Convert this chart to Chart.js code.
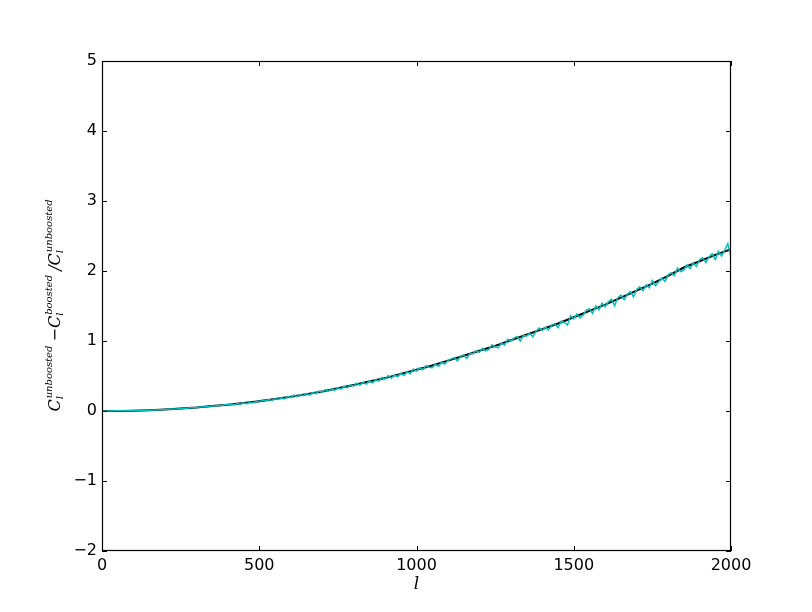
<!DOCTYPE html>
<html>
<head>
<meta charset="utf-8">
<script src="https://cdn.jsdelivr.net/npm/chart.js@4"></script>
<style>
  body { margin: 0; background: #fff; }
  canvas { display: block; }
</style>
</head>
<body>
<canvas id="boostChart" width="812" height="612"></canvas>
<script>
// smooth (black) curve, one value every 50 in l
const smoothL = [0, 50, 100, 150, 200, 250, 300, 350, 400, 450, 500, 550, 600, 650, 700, 750, 800, 850, 900, 950,
  1000, 1050, 1100, 1150, 1200, 1250, 1300, 1350, 1400, 1450, 1500, 1550, 1600, 1650, 1700, 1750, 1800, 1850, 1900, 1950, 2000];
const smoothRatio = [0, 0.001, 0.005, 0.012, 0.022, 0.035, 0.05, 0.07, 0.09, 0.115, 0.14, 0.17, 0.205, 0.24, 0.28, 0.325, 0.37, 0.42, 0.47, 0.53,
  0.59, 0.65, 0.72, 0.79, 0.86, 0.93, 1.01, 1.09, 1.17, 1.25, 1.34, 1.43, 1.52, 1.62, 1.72, 1.82, 1.93, 2.05, 2.14, 2.23, 2.31];

// noisy (cyan) curve, one value every 10 in l, from 0 to 2000
const noisyStep = 10;
const noisyRatio = [
  0, 0.000, 0.001, 0.001, 0.002, 0.002, 0.003, 0.004, 0.004, 0.005, 0.005,
  0.006, 0.007, 0.008, 0.010, 0.011, 0.013, 0.015, 0.017, 0.019, 0.022,
  0.024, 0.027, 0.029, 0.032, 0.036, 0.038, 0.041, 0.045, 0.047, 0.051,
  0.056, 0.056, 0.064, 0.062, 0.072, 0.071, 0.079, 0.080, 0.088, 0.089,
  0.100, 0.088, 0.106, 0.098, 0.118, 0.104, 0.126, 0.115, 0.140, 0.128,
  0.158, 0.140, 0.163, 0.150, 0.176, 0.165, 0.190, 0.172, 0.206, 0.192,
  0.226, 0.205, 0.234, 0.218, 0.250, 0.228, 0.262, 0.248, 0.285, 0.270,
  0.305, 0.282, 0.318, 0.296, 0.335, 0.312, 0.352, 0.330, 0.375, 0.358,
  0.398, 0.370, 0.410, 0.385, 0.432, 0.402, 0.448, 0.428, 0.478, 0.455,
  0.505, 0.468, 0.515, 0.490, 0.540, 0.508, 0.562, 0.532, 0.600, 0.570,
  0.615, 0.590, 0.648, 0.625, 0.618, 0.668, 0.640, 0.700, 0.672, 0.725,
  0.745, 0.762, 0.718, 0.780, 0.800, 0.752, 0.825, 0.818, 0.862, 0.838,
  0.895, 0.858, 0.880, 0.945, 0.915, 0.905, 0.972, 0.940, 1.025, 0.998,
  1.040, 1.065, 1.000, 1.082, 1.070, 1.110, 1.060, 1.140, 1.185, 1.150,
  1.200, 1.158, 1.230, 1.245, 1.190, 1.282, 1.265, 1.228, 1.360, 1.318,
  1.385, 1.330, 1.370, 1.438, 1.460, 1.395, 1.500, 1.445, 1.540, 1.490,
  1.560, 1.598, 1.505, 1.620, 1.655, 1.590, 1.665, 1.705, 1.632, 1.735,
  1.775, 1.720, 1.800, 1.760, 1.862, 1.790, 1.845, 1.900, 1.850, 1.945,
  1.975, 1.935, 2.040, 1.990, 2.012, 2.090, 2.035, 2.115, 2.065, 2.160,
  2.190, 2.120, 2.200, 2.245, 2.165, 2.280, 2.215, 2.300, 2.390, 2.200
];

const xTicks = [0, 500, 1000, 1500, 2000];
const yTicks = [-2, -1, 0, 1, 2, 3, 4, 5];

const noisyPoints = noisyRatio.map((v, i) => ({ x: i * noisyStep, y: v }));
const smoothPoints = smoothRatio.map((v, i) => ({ x: smoothL[i], y: v }));

const CHART_LEFT = 102, CHART_RIGHT = 731, CHART_TOP = 61, CHART_BOTTOM = 551;

// matplotlib-like frame, inward ticks on all sides and axis titles
const framePlugin = {
  id: "frame",
  afterDraw(chart) {
    const { ctx, chartArea: a, scales } = chart;
    ctx.save();
    ctx.strokeStyle = "#000";
    ctx.lineWidth = 1;
    ctx.beginPath();
    xTicks.forEach(t => {
      const px = Math.round(scales.x.getPixelForValue(t)) + 0.5;
      ctx.moveTo(px, a.bottom); ctx.lineTo(px, a.bottom - 5);
      ctx.moveTo(px, a.top); ctx.lineTo(px, a.top + 5);
    });
    yTicks.forEach(t => {
      const py = Math.round(scales.y.getPixelForValue(t)) + 0.5;
      ctx.moveTo(a.left, py); ctx.lineTo(a.left + 5, py);
      ctx.moveTo(a.right, py); ctx.lineTo(a.right - 5, py);
    });
    ctx.stroke();
    ctx.lineWidth = 1.2;
    ctx.strokeRect(a.left + 0.5, a.top + 0.5, a.right - a.left - 1, a.bottom - a.top - 1);

    // x title
    ctx.fillStyle = "#000";
    ctx.font = "italic 17px 'DejaVu Serif'";
    ctx.textAlign = "center";
    ctx.textBaseline = "alphabetic";
    ctx.fillText("l", (a.left + a.right) / 2, 589);

    // y title, drawn as math pieces
    const big = "italic 16px 'DejaVu Serif'";
    const small = "italic 10px 'DejaVu Serif'";
    const parts = [
      ["C", "unboosted", "l"],
      [" \u2212C", "boosted", "l"],
      [" /C", "unboosted", "l"]
    ];
    const widths = parts.map(p => {
      ctx.font = big; const wb = ctx.measureText(p[0]).width;
      ctx.font = small; const ws = Math.max(ctx.measureText(p[1]).width, ctx.measureText(p[2]).width);
      return wb + ws;
    });
    const total = widths.reduce((s, w) => s + w, 0);
    ctx.translate(60, 306);
    ctx.rotate(-Math.PI / 2);
    ctx.textAlign = "left";
    let cx = -total / 2;
    parts.forEach((p, i) => {
      ctx.font = big;
      ctx.fillText(p[0], cx, 0);
      const wb = ctx.measureText(p[0]).width;
      ctx.font = small;
      ctx.fillText(p[1], cx + wb + 1, -8);
      ctx.fillText(p[2], cx + wb, 3);
      cx += widths[i];
    });
    ctx.restore();
  }
};

new Chart(document.getElementById("boostChart"), {
  type: "line",
  data: {
    datasets: [
      {
        data: noisyPoints,
        borderColor: "#00BFBF",
        borderWidth: 1.5,
        pointRadius: 0,
        tension: 0,
      },
      {
        data: smoothPoints,
        borderColor: "#000000",
        borderWidth: 2,
        pointRadius: 0,
        tension: 0,
      },
    ],
  },
  options: {
    responsive: false,
    animation: false,
    events: [],
    layout: { padding: { left: 0, top: CHART_TOP, right: 812 - CHART_RIGHT, bottom: 0 } },
    plugins: { legend: { display: false }, tooltip: { enabled: false } },
    scales: {
      x: {
        type: "linear",
        min: 0,
        max: 2000,
        afterBuildTicks: s => { s.ticks = xTicks.map(v => ({ value: v })); },
        afterFit: s => { s.height = 612 - CHART_BOTTOM; },
        grid: { display: false, drawTicks: false },
        border: { display: false },
        ticks: {
          color: "#000",
          padding: 5,
          maxRotation: 0,
          autoSkip: false,
          font: { family: "'DejaVu Sans'", size: 16 },
          callback: v => String(v),
        },
      },
      y: {
        type: "linear",
        min: -2,
        max: 5,
        afterBuildTicks: s => { s.ticks = yTicks.map(v => ({ value: v })); },
        afterFit: s => { s.width = CHART_LEFT; },
        grid: { display: false, drawTicks: false },
        border: { display: false },
        ticks: {
          color: "#000",
          padding: 5,
          autoSkip: false,
          font: { family: "'DejaVu Sans'", size: 16 },
          callback: v => String(v).replace("-", "\u2212"),
        },
      },
    },
  },
  plugins: [framePlugin],
});
</script>
</body>
</html>
